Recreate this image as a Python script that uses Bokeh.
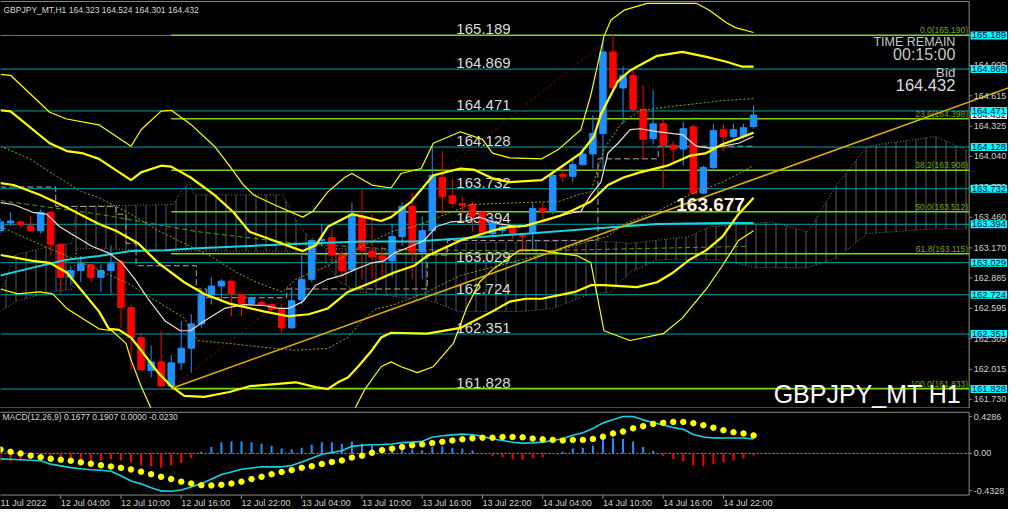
from bokeh.plotting import figure
from bokeh.models import Range1d, Label
from bokeh.layouts import column
from bokeh.embed import file_html
from bokeh.resources import INLINE
from bokeh.core.properties import value

FONT = "Liberation Sans"

# ---------------- GBPJPY H1 candles (11 Jul 22:00 .. 15 Jul 01:00) ----------------
opens = [163.333, 163.407, 163.416, 163.379, 163.333, 163.508, 163.204, 162.890, 162.954, 163.010,
         162.890, 162.954, 163.037, 162.603, 162.317, 162.003, 162.086, 161.856, 162.077, 162.216,
         162.447, 162.724, 162.807, 162.853, 162.724, 162.640, 162.650, 162.631, 162.585, 162.410,
         162.677, 162.871, 163.241, 163.268, 163.102, 162.964, 163.471, 163.139, 163.093, 163.047,
         163.277, 163.564, 163.130, 163.333, 163.841, 163.665, 163.592, 163.582, 163.508, 163.305,
         163.333, 163.370, 163.287, 163.305, 163.545, 163.518, 163.868, 163.850, 163.961, 164.062,
         164.256, 165.032, 164.690, 164.810, 164.487, 164.210, 164.349, 164.146, 164.109, 164.321,
         163.690, 163.933, 164.293, 164.229, 164.229, 164.323]
highs = [163.453, 163.508, 163.434, 163.471, 163.536, 163.518, 163.213, 163.001, 163.093, 163.019,
         163.010, 163.194, 163.056, 162.631, 162.354, 162.243, 162.382, 162.151, 162.474, 162.539,
         162.770, 162.890, 162.871, 162.871, 162.733, 162.705, 162.668, 162.640, 162.640, 162.797,
         163.102, 163.250, 163.397, 163.351, 163.139, 163.601, 163.721, 163.490, 163.185, 163.397,
         163.601, 163.693, 163.471, 164.136, 164.090, 163.832, 163.656, 163.610, 163.518, 163.444,
         163.397, 163.397, 163.305, 163.601, 163.601, 163.878, 163.952, 164.025, 164.118, 164.432,
         165.134, 165.190, 164.894, 164.857, 164.718, 164.672, 164.386, 164.182, 164.367, 164.339,
         163.952, 164.349, 164.349, 164.349, 164.349, 164.524]
lows = [163.305, 163.379, 163.361, 163.324, 163.305, 163.102, 162.733, 162.816, 162.844, 162.844,
        162.751, 162.733, 162.410, 162.012, 162.003, 161.939, 161.846, 161.833, 162.012, 161.985,
        162.410, 162.631, 162.659, 162.520, 162.520, 162.622, 162.613, 162.567, 162.363, 162.400,
        162.631, 162.844, 163.185, 163.028, 162.890, 162.936, 162.871, 162.871, 162.871, 162.890,
        163.185, 162.871, 162.871, 163.121, 163.490, 163.555, 163.490, 163.324, 163.287, 163.287,
        163.305, 163.259, 163.121, 163.148, 163.379, 163.490, 163.795, 163.795, 163.952, 163.924,
        163.924, 164.672, 164.349, 164.459, 164.025, 164.155, 163.739, 163.979, 163.952, 163.677,
        163.683, 163.905, 164.090, 164.210, 164.210, 164.301]
closes = [163.416, 163.425, 163.388, 163.333, 163.508, 163.204, 162.890, 162.954, 163.019, 162.890,
          162.954, 163.019, 162.603, 162.317, 162.012, 162.086, 161.856, 162.077, 162.216, 162.447,
          162.733, 162.807, 162.853, 162.733, 162.640, 162.696, 162.631, 162.585, 162.410, 162.668,
          162.871, 163.241, 163.250, 163.102, 162.954, 163.490, 163.148, 163.084, 163.056, 163.277,
          163.564, 163.130, 163.333, 163.859, 163.656, 163.592, 163.573, 163.471, 163.305, 163.416,
          163.370, 163.296, 163.277, 163.545, 163.518, 163.859, 163.850, 163.961, 164.062, 164.256,
          165.032, 164.690, 164.810, 164.487, 164.201, 164.349, 164.146, 164.109, 164.303, 163.690,
          163.933, 164.284, 164.229, 164.293, 164.312, 164.432]
bars = list(range(len(opens)))

# ---------------- horizontal levels / fibonacci / trend ----------------
level_prices = [165.189, 164.869, 164.471, 164.128, 163.732, 163.394, 163.029, 162.724, 162.351, 161.828]
fib_prices = [165.190, 164.398, 163.908, 163.512, 163.115, 161.833]
fib_names = ["0.0", "23.6", "38.2", "50.0", "61.8", "100.0"]
fib_bars = [17, 61]
trend_bars = [17, 101]
trend_prices = [161.833, 164.712]
price_ticks = [165.190, 164.905, 164.615, 164.325, 164.040, 163.750, 163.460, 163.170,
               162.885, 162.595, 162.305, 162.015, 161.730]
bid_price = 164.432

# ---------------- indicator lines (knots: bar, price) ----------------
bb3_up_x = [0, 1.0, 4.9, 6.6, 9.8, 13.0, 14.0, 16.0, 17.0, 18.9, 21.3, 22.8, 24.2, 25.2, 27.2, 30.1, 31.1,
            32.6, 34.3, 35.0, 37.0, 38.9, 39.9, 41.9, 43.1, 45.8, 48.0, 49.0, 50.7, 53.9, 55.6, 57.8,
            58.8, 60.1, 60.8, 62.1, 64.4, 69.3, 70.6, 72.3, 73.2, 75.0]
bb3_up_y = [164.819, 164.810, 164.459, 164.395, 164.339, 164.136, 164.293, 164.469, 164.478, 164.348,
            164.136, 163.952, 163.767, 163.674, 163.582, 163.462, 163.517, 163.702, 163.841, 163.877,
            163.767, 163.739, 163.877, 163.924, 164.164, 164.274, 164.201, 164.071, 164.025, 164.016,
            164.108, 164.293, 164.625, 165.180, 165.336, 165.429, 165.494, 165.494, 165.429, 165.309,
            165.263, 165.217]
bb2_up_x = [0, 1.0, 4.9, 6.6, 8.1, 9.8, 13.0, 14.0, 16.0, 17.0, 18.9, 21.3, 23.2, 24.8, 27.2, 30.1,
            31.4, 32.6, 35.0, 36.3, 37.9, 38.9, 40.9, 43.1, 45.8, 47.1, 49.0, 50.7, 53.9, 55.6, 57.8,
            59.1, 59.8, 61.5, 62.7, 65.4, 67.9, 70.3, 72.3, 73.8, 75.0]
bb2_up_y = [164.478, 164.468, 164.164, 164.090, 164.071, 164.016, 163.813, 163.887, 163.951, 163.942,
            163.841, 163.674, 163.508, 163.323, 163.240, 163.139, 163.194, 163.370, 163.490, 163.462,
            163.425, 163.462, 163.610, 163.859, 163.924, 163.914, 163.831, 163.794, 163.813, 163.924,
            164.071, 164.228, 164.441, 164.755, 164.856, 164.995, 165.032, 164.985, 164.939, 164.893,
            164.893]
bb_mid_x = [0, 1.3, 3.9, 6.6, 9.8, 11.5, 13.7, 15.7, 18.3, 20.3, 22.8, 26.2, 28.7, 30.7, 32.6, 34.6,
            37.0, 39.2, 41.2, 42.5, 45.8, 49.0, 50.7, 52.3, 53.9, 55.6, 57.2, 58.8, 60.5, 62.1, 63.7,
            66.4, 68.6, 70.3, 71.9, 73.5, 75.0]
bb_mid_y = [163.785, 163.767, 163.674, 163.554, 163.397, 163.333, 163.213, 163.028, 162.843, 162.732,
            162.640, 162.566, 162.520, 162.539, 162.594, 162.751, 162.843, 162.936, 163.000, 163.093,
            163.240, 163.333, 163.370, 163.379, 163.425, 163.471, 163.536, 163.610, 163.767, 163.841,
            163.887, 163.951, 164.044, 164.071, 164.154, 164.210, 164.265]
bb2_dn_x = [0, 3.2, 4.9, 6.6, 9.8, 10.8, 11.8, 13.0, 14.0, 15.7, 17.0, 18.3, 20.3, 22.8, 24.8, 29.4,
            31.4, 32.6, 33.6, 34.6, 35.6, 37.0, 37.9, 38.9, 42.5, 45.8, 49.0, 50.7, 52.3, 53.9, 57.2,
            58.8, 60.1, 63.4, 65.4, 67.0, 68.6, 70.3, 71.9, 73.5, 75.0]
bb2_dn_y = [163.102, 163.046, 163.028, 162.936, 162.566, 162.400, 162.391, 162.317, 162.197, 161.984,
            161.855, 161.763, 161.754, 161.800, 161.855, 161.892, 161.846, 161.828, 161.892, 161.938,
            162.040, 162.197, 162.317, 162.363, 162.354, 162.409, 162.566, 162.659, 162.686, 162.686,
            162.751, 162.815, 162.815, 162.797, 162.843, 162.936, 163.056, 163.148, 163.277, 163.490,
            163.647]
bb3_dn_x = [0, 1.7, 3.9, 5.2, 6.6, 9.8, 11.1, 12.5, 13.0, 14.0, 15.0, 15.7, 19.6, 29.4, 34.3, 35.3,
            36.3, 37.9, 38.9, 39.9, 41.5, 43.1, 45.1, 46.4, 47.7, 49.0, 51.7, 53.9, 55.6, 57.5, 58.8,
            60.1, 62.7, 66.0, 67.9, 70.3, 71.9, 73.5, 75.0]
bb3_dn_y = [162.779, 162.732, 162.751, 162.732, 162.594, 162.400, 162.382, 162.262, 162.105, 161.855,
            161.643, 161.458, 161.181, 161.181, 161.458, 161.643, 161.828, 162.040, 162.086, 162.040,
            161.984, 162.040, 162.261, 162.594, 162.843, 162.963, 163.148, 163.148, 163.120, 163.093,
            163.028, 162.382, 162.289, 162.354, 162.502, 162.779, 163.000, 163.240, 163.333]
bb1_up_x = [0, 2.9, 5.9, 8.1, 9.8, 13.0, 15.7, 18.3, 20.9, 23.5, 25.5, 28.1, 29.4, 32.6, 36.0, 39.2,
            41.2, 46.8, 52.3, 55.6, 57.5, 58.8, 60.1, 61.8, 63.7, 66.0, 68.6, 71.9, 75.0]
bb1_up_y = [164.136, 164.016, 163.831, 163.702, 163.647, 163.490, 163.333, 163.213, 163.093, 162.936,
            162.843, 162.751, 162.871, 163.000, 163.185, 163.333, 163.370, 163.582, 163.601, 163.610,
            163.674, 163.702, 164.108, 164.348, 164.478, 164.505, 164.533, 164.570, 164.588]
bb1_dn_x = [0, 6.6, 12.5, 18.3, 19.6, 22.8, 26.2, 29.4, 32.6, 34.6, 36.0, 37.3, 39.2, 42.5, 45.8,
            55.6, 58.8, 60.5, 62.1, 65.4, 68.6, 71.9, 75.0]
bb1_dn_y = [163.370, 163.093, 162.843, 162.502, 162.289, 162.261, 162.225, 162.197, 162.215, 162.317,
            162.474, 162.585, 162.631, 162.751, 162.908, 163.148, 163.240, 163.277, 163.397, 163.517,
            163.674, 163.794, 163.951]
ma_fast_x = [0, 1.3, 3.2, 4.6, 5.9, 7.5, 9.1, 10.8, 12.1, 13.4, 14.7, 16.4, 17.9, 18.9, 20.3, 22.3,
             24.2, 26.2, 27.7, 28.7, 30.1, 31.4, 32.6, 34.0, 35.3, 37.0, 38.2, 39.2, 40.9, 42.2, 43.4,
             44.8, 46.4, 47.7, 49.7, 51.7, 52.9, 54.2, 55.6, 57.2, 57.8, 58.8, 59.8, 60.5, 61.5, 62.7,
             63.7, 65.4, 67.0, 67.9, 69.3, 70.6, 71.9, 73.5, 75.0]
ma_fast_y = [163.600, 163.582, 163.508, 163.490, 163.370, 163.277, 163.185, 163.120, 163.028, 162.871,
             162.686, 162.474, 162.382, 162.382, 162.474, 162.594, 162.631, 162.622, 162.594, 162.594,
             162.659, 162.815, 162.871, 162.908, 162.963, 163.028, 163.046, 163.120, 163.185, 163.240,
             163.370, 163.416, 163.425, 163.462, 163.397, 163.370, 163.397, 163.425, 163.471, 163.508,
             163.517, 163.674, 163.794, 164.071, 164.164, 164.293, 164.302, 164.274, 164.256, 164.247,
             164.136, 164.118, 164.136, 164.164, 164.228]
ma_slow_x = [0, 3.2, 6.6, 9.8, 13.0, 16.4, 19.6, 26.2, 31.1, 36.0, 41.2, 45.8, 52.3, 58.8, 65.4, 71.9, 75.0]
ma_slow_y = [162.908, 162.982, 163.056, 163.093, 163.139, 163.148, 163.167, 163.194, 163.213, 163.231,
             163.231, 163.259, 163.305, 163.351, 163.397, 163.406, 163.406]
ma_long_x = [0, 9.8, 19.6, 29.4, 39.2, 52.0, 74.5]
ma_long_y = [163.619, 163.490, 163.324, 163.213, 163.157, 163.139, 163.185]
kijun = [163.748] * 6 + [163.564] * 6 + [163.490, 163.213] + [163.000] * 6 + [162.779] + [162.696] * 8 \
        + [162.779] * 14 + [163.102] * 2 + [163.241] * 15 + [164.016] * 6 + [164.136] * 10
cloud_top_x = [0, 1.5, 4.9, 7.1, 7.6, 17.2, 18.1, 18.8, 19.3, 28.1, 29.1, 30.4, 32.4, 43.1, 45.1, 58.8,
               62.7, 68.6, 70.6, 76.8, 80.4, 83.3, 86.3, 93.1, 96.4]
cloud_top_y = [162.751, 163.102, 163.185, 163.213, 163.564, 163.582, 163.721, 163.795, 163.674, 163.674,
               163.490, 163.305, 163.167, 163.139, 163.213, 163.241, 163.213, 163.277, 163.370, 163.416,
               163.323, 163.767, 164.136, 164.228, 164.090]
cloud_bot_x = [0, 1.5, 4.9, 7.1, 7.6, 17.2, 28.4, 30.4, 32.4, 33.8, 35.8, 43.1, 45.6, 52.0, 54.9, 58.8,
               60.8, 62.7, 65.4, 71.9, 75.2, 80.4, 83.3, 86.3, 93.1, 96.4]
cloud_bot_y = [162.566, 162.659, 162.751, 162.779, 163.167, 163.139, 163.139, 163.102, 163.028, 162.843,
               162.751, 162.659, 162.566, 162.566, 162.594, 162.733, 162.751, 162.936, 163.056, 163.056,
               162.982, 162.982, 163.074, 163.305, 163.351, 163.351]

# ---------------- MACD(12,26,9) ----------------
macd_hist = [-0.090, -0.093, -0.082, -0.056, -0.045, -0.037, -0.075, -0.093, -0.104, -0.093,
             -0.082, -0.067, -0.082, -0.104, -0.142, -0.149, -0.168, -0.142, -0.112, -0.056,
             0.019, 0.075, 0.130, 0.138, 0.138, 0.130, 0.112, 0.086, 0.056, 0.048,
             0.067, 0.101, 0.130, 0.130, 0.112, 0.138, 0.112, 0.093, 0.056, 0.075,
             0.056, 0.045, 0.037, 0.075, 0.082, 0.067, 0.056, 0.037, 0.004, -0.030,
             -0.045, -0.067, -0.075, -0.056, -0.045, -0.004, 0.019, 0.056, 0.067, 0.093,
             0.160, 0.175, 0.168, 0.138, 0.075, 0.030, -0.030, -0.067, -0.093, -0.142,
             -0.149, -0.123, -0.104, -0.082, -0.063, -0.023]
macd_main = [-0.063, -0.068, -0.074, -0.080, -0.085, -0.125, -0.145, -0.165, -0.178, -0.190,
             -0.196, -0.208, -0.260, -0.320, -0.354, -0.400, -0.436, -0.440, -0.425, -0.390,
             -0.350, -0.300, -0.245, -0.215, -0.185, -0.170, -0.156, -0.156, -0.156, -0.140,
             -0.100, -0.055, -0.010, 0.010, 0.030, 0.082, 0.094, 0.100, 0.103, 0.110,
             0.125, 0.131, 0.140, 0.187, 0.205, 0.215, 0.224, 0.217, 0.200, 0.168,
             0.150, 0.130, 0.120, 0.122, 0.131, 0.150, 0.170, 0.210, 0.240, 0.290,
             0.355, 0.390, 0.429, 0.429, 0.390, 0.360, 0.330, 0.300, 0.280, 0.220,
             0.190, 0.180, 0.179, 0.179, 0.179, 0.168]
macd_signal = [0.045, 0.019, 0.000, -0.026, -0.044, -0.063, -0.074, -0.085, -0.104, -0.119,
               -0.138, -0.153, -0.167, -0.186, -0.212, -0.242, -0.272, -0.298, -0.328, -0.350,
               -0.369, -0.372, -0.365, -0.350, -0.328, -0.298, -0.272, -0.242, -0.216, -0.194,
               -0.167, -0.149, -0.123, -0.100, -0.082, -0.048, -0.026, 0.008, 0.038, 0.056,
               0.075, 0.094, 0.105, 0.120, 0.135, 0.150, 0.164, 0.176, 0.183, 0.183,
               0.191, 0.191, 0.187, 0.172, 0.164, 0.157, 0.150, 0.157, 0.157, 0.168,
               0.194, 0.232, 0.254, 0.291, 0.317, 0.343, 0.355, 0.366, 0.366, 0.351,
               0.328, 0.299, 0.269, 0.246, 0.232, 0.209]
macd_ticks = [0.4286, 0.0, -0.4328]
macd_tick_labels = ["0.4286", "0.00", "-0.4328"]

time_ticks = [6, 12, 18, 24, 30, 36, 42, 48, 54, 60, 66, 72]
time_labels = ["12 Jul 04:00", "12 Jul 10:00", "12 Jul 16:00", "12 Jul 22:00", "13 Jul 04:00",
               "13 Jul 10:00", "13 Jul 16:00", "13 Jul 22:00", "14 Jul 04:00", "14 Jul 10:00",
               "14 Jul 16:00", "14 Jul 22:00"]

BG = "black"
FRAME = "#8c8c8c"
BULL = "#1e90ff"
BEAR = "#ff0000"
LEVEL = "#00a5ad"
FIB = "#7cd320"
YEL = "#ffff00"
AXT = "#d0d0d0"

X_END = 100.39      # right edge of the picture, in bars
X_SCALE = 96.47     # right edge of the chart area (price scale line)
xr = Range1d(0, X_END)


def lab(fig, x, y, text, size, color, align="left", baseline="middle", bold=False, bg=None, pad=0):
    kw = dict(x=x, y=y, text=text, text_font=FONT, text_font_size=size, text_color=color,
              text_align=align, text_baseline=baseline,
              text_font_style="bold" if bold else "normal")
    if bg is not None:
        kw.update(background_fill_color=bg, padding=pad)
    fig.add_layout(Label(**kw))


def bare(height, yr):
    f = figure(width=1008, height=height, x_range=xr, y_range=yr, output_backend="svg",
               toolbar_location=None, x_axis_location=None, y_axis_location=None,
               background_fill_color=BG, border_fill_color=BG,
               min_border_left=0, min_border_top=0, min_border_bottom=0, min_border_right=0)
    f.grid.visible = False
    f.outline_line_color = None
    return f


# ================= main price window =================
p = bare(408, Range1d(161.643, 165.521))

# ichimoku-like cloud
p.patch(cloud_top_x + cloud_bot_x[::-1], cloud_top_y + cloud_bot_y[::-1], fill_color=None,
        line_color=None, hatch_pattern="vertical_line", hatch_color="#5a5a5a",
        hatch_scale=10, hatch_weight=1)
p.line(cloud_top_x, cloud_top_y, line_color="#7a7a7a", line_dash="1 2", line_width=1)
p.line(cloud_bot_x, cloud_bot_y, line_color="#7a7a7a", line_dash="1 2", line_width=1)
p.step(bars, kijun, mode="center", line_color="#b8a898", line_dash="6 3", line_width=1)
p.line(ma_long_x, ma_long_y, line_color="#4f9a10", line_dash="5 3", line_width=1)

# horizontal levels with labels
n = len(level_prices)
p.segment(x0=[0] * n, y0=level_prices, x1=[X_SCALE] * n, y1=level_prices, line_color=LEVEL, line_width=1)
p.text(x=[45.4] * n, y=level_prices, text=[f"{v:.3f}" for v in level_prices],
       text_font=value(FONT), text_font_size="15px", text_color="#dcdcdc",
       text_baseline="bottom", y_offset=-1)

# fibonacci
nf = len(fib_prices)
p.segment(x0=[fib_bars[0]] * nf, y0=fib_prices, x1=[X_SCALE] * nf, y1=fib_prices,
          line_color=FIB, line_width=1.5)
p.text(x=[X_SCALE - 0.1] * nf, y=fib_prices,
       text=[f"{nm}({v:.3f})" for nm, v in zip(fib_names, fib_prices)],
       text_font=value(FONT), text_font_size="8.5px", text_color="#74a800",
       text_align="right", text_baseline="bottom", y_offset=0)
p.line(fib_bars, [fib_prices[-1], fib_prices[0]], line_color="#a00000", line_dash="2 3", line_width=1)

# candles
inc = [i for i in bars if closes[i] >= opens[i]]
dec = [i for i in bars if closes[i] < opens[i]]
for idx, col in ((inc, BULL), (dec, BEAR)):
    p.segment(x0=idx, y0=[lows[i] for i in idx], x1=idx, y1=[highs[i] for i in idx],
              line_color=col, line_width=1)
    p.vbar(x=idx, width=0.64, top=[max(opens[i], closes[i]) for i in idx],
           bottom=[min(opens[i], closes[i]) for i in idx], fill_color=col, line_color=col,
           line_width=1)

# indicators
p.line(bb1_up_x, bb1_up_y, line_color="#a0a000", line_dash="2 2", line_width=1)
p.line(bb1_dn_x, bb1_dn_y, line_color="#a0a000", line_dash="2 2", line_width=1)
p.line(ma_slow_x, ma_slow_y, line_color="#19d3e0", line_width=2)
p.line(ma_fast_x, ma_fast_y, line_color="#f2ddd0", line_width=1.2)
p.line(bb3_up_x, bb3_up_y, line_color=YEL, line_width=1.2)
p.line(bb3_dn_x, bb3_dn_y, line_color=YEL, line_width=1.2)
p.line(bb2_up_x, bb2_up_y, line_color=YEL, line_width=2.2)
p.line(bb2_dn_x, bb2_dn_y, line_color=YEL, line_width=2.2)
p.line(bb_mid_x, bb_mid_y, line_color=YEL, line_width=2.2)
p.line(trend_bars, trend_prices, line_color="#e0b000", line_width=1.5)

# frame and price scale
p.quad(left=[-1], right=[X_SCALE], top=[165.512], bottom=[161.648], fill_color=None,
       line_color=FRAME, line_width=1)
nt = len(price_ticks)
p.segment(x0=[X_SCALE] * nt, y0=price_ticks, x1=[X_SCALE + 0.3] * nt, y1=price_ticks,
          line_color=FRAME, line_width=1)
p.text(x=[X_SCALE + 0.45] * nt, y=price_ticks, text=[f"{v:.3f}" for v in price_ticks],
       text_font=value(FONT), text_font_size="9px", text_color=AXT, text_baseline="middle")

# texts
lab(p, 0.3, 165.429, "GBPJPY_MT,H1  164.323 164.524 164.301 164.432", "8.5px", "#d8d8d8")
lab(p, 95.1, 165.129, "TIME REMAIN", "12.5px", "#c8c8c8", align="right")
lab(p, 95.1, 165.004, "00:15:00", "16px", "#c8c8c8", align="right")
lab(p, 95.1, 164.838, "Bid", "13.5px", "#c8c8c8", align="right")
lab(p, 95.1, 164.718, "164.432", "16.5px", "#dcdcdc", align="right")
lab(p, 67.3, 163.582, "163.677", "19px", "#fff3dc", bold=True)
lab(p, 77.0, 161.785, "GBPJPY_MT H1", "25px", "#ffffff")

# right-scale boxes
lab(p, X_SCALE + 0.15, bid_price, f"{bid_price:.3f}", "9.5px", "#000000", bg="#ffffff", pad=1)
for v in level_prices:
    lab(p, X_SCALE + 0.15, v, f"{v:.3f}", "9.5px", "#000040", bg="#00ffff", pad=1)

# ================= MACD window =================
m = bare(101, Range1d(-0.652, 0.522))
m.quad(left=[-1], right=[X_SCALE], top=[0.478], bottom=[-0.484], fill_color=None,
       line_color=FRAME, line_width=1)
m.segment(x0=[0], y0=[0], x1=[X_SCALE], y1=[0], line_color="#a0a0a0", line_dash="2 2", line_width=1)
pos = [i for i in bars if macd_hist[i] >= 0]
neg = [i for i in bars if macd_hist[i] < 0]
m.segment(x0=pos, y0=[0] * len(pos), x1=pos, y1=[macd_hist[i] for i in pos], line_color=BULL, line_width=2)
m.segment(x0=neg, y0=[0] * len(neg), x1=neg, y1=[macd_hist[i] for i in neg], line_color=BEAR, line_width=2)
m.line(bars, macd_main, line_color="#19d3e0", line_width=1.6)
m.scatter(bars, macd_signal, size=5.5, fill_color=YEL, line_color=YEL)

nm_ = len(macd_ticks)
m.segment(x0=[X_SCALE] * nm_, y0=macd_ticks, x1=[X_SCALE + 0.3] * nm_, y1=macd_ticks,
          line_color=FRAME, line_width=1)
m.text(x=[X_SCALE + 0.45] * nm_, y=macd_ticks, text=macd_tick_labels, text_font=value(FONT),
       text_font_size="9px", text_color=AXT, text_baseline="middle")

ntt = len(time_ticks)
m.segment(x0=time_ticks, y0=[-0.484] * ntt, x1=time_ticks, y1=[-0.53] * ntt,
          line_color=FRAME, line_width=1)
m.text(x=[0.0] + time_ticks, y=[-0.574] * (ntt + 1), text=["11 Jul 2022"] + time_labels,
       text_font=value(FONT), text_font_size="9px", text_color=AXT, text_baseline="middle")

lab(m, 0.2, 0.42, "MACD(12,26,9) 0.1677 0.1907 0.0000 -0.0230", "8.5px", "#d8d8d8")

layout = column(p, m, spacing=0, background=BG)
open("out.html", "w").write(file_html(layout, INLINE))
